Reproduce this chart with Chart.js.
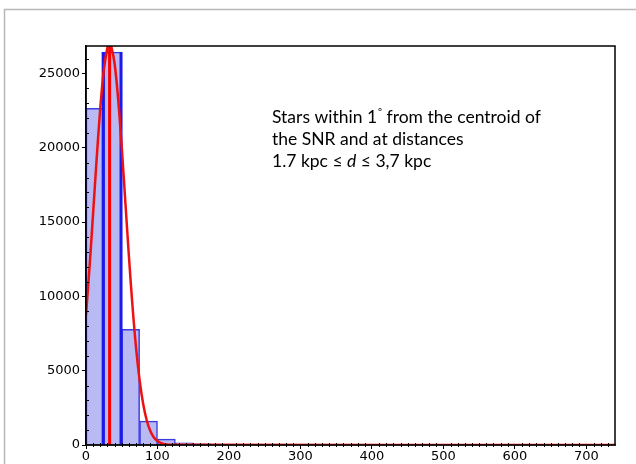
<!DOCTYPE html>
<html>
<head>
<meta charset="utf-8">
<script src="https://cdn.jsdelivr.net/npm/chart.js@4/dist/chart.umd.min.js"></script>
<style>
  html, body { margin: 0; padding: 0; background: #fff; }
  #wrap { width: 636px; height: 464px; position: relative; }
</style>
</head>
<body>
<div id="wrap"><canvas id="chart"></canvas></div>
<script>
// histogram bins (width 25) and counts
const binCenters = [12.5, 37.5, 62.5, 87.5, 112.5, 137.5, 162.5, 187.5, 212.5, 237.5,
    262.5, 287.5, 312.5, 337.5, 362.5, 387.5, 412.5, 437.5, 462.5, 487.5,
    512.5, 537.5, 562.5, 587.5, 612.5, 637.5, 662.5, 687.5, 712.5, 737.5];
const counts = [22650, 26440, 7780, 1610, 400, 150, 80, 60, 45, 40,
    35, 30, 28, 25, 22, 20, 18, 16, 15, 14,
    12, 11, 10, 9, 8, 8, 7, 6, 6, 5];

// fitted curve
const curveX = [0, 5, 10, 15, 20, 25, 30, 33, 35, 40, 45, 50, 55, 60, 65, 70, 75, 80, 85, 90, 95, 100, 105, 110, 120, 740];
const curveY = [8770, 12000, 15640, 19320, 22680, 25270, 26740, 27000, 26890, 25670, 23270, 20030, 16380, 12720, 9370, 6560, 4370, 2760, 1650, 940, 510, 260, 130, 60, 10, 0];

// vertical marker lines
const blueLinesX = [24, 49];
const blueLineTop = 26440;
const redLineX = 33;

const xTicks = [0, 100, 200, 300, 400, 500, 600, 700];
const yTicks = [0, 5000, 10000, 15000, 20000, 25000];
const xMinorStep = 10;
const yMinorStep = 1000;

const annotationLines = ['Stars within 1', 'the SNR and at distances', '1.7 kpc \u2264 ', 'd', ' \u2264 3,7 kpc'];

const ctx = document.querySelector('#chart').getContext('2d');

const frame = {
    id: 'frame',
    beforeDraw(chart) {
        const c = chart.ctx;
        c.save();
        c.fillStyle = '#fff';
        c.fillRect(0, 0, chart.width, chart.height);
        c.strokeStyle = '#b8b8b8';
        c.lineWidth = 1.5;
        c.strokeRect(4.5, 9.5, 700, 600);
        c.restore();
    },
    afterDraw(chart) {
        const c = chart.ctx;
        const a = chart.chartArea;
        const xs = chart.scales.x;
        const ys = chart.scales.y;
        c.save();
        c.strokeStyle = '#000';
        c.lineWidth = 1.5;
        c.strokeRect(a.left, a.top, a.right - a.left, a.bottom - a.top);

        // minor ticks
        c.lineWidth = 1;
        c.beginPath();
        for (let v = xMinorStep; v < xs.max; v += xMinorStep) {
            if (v % 100 === 0) continue;
            const px = Math.round(xs.getPixelForValue(v)) + 0.5;
            c.moveTo(px, a.bottom - 2);
            c.lineTo(px, a.bottom + 2);
        }
        for (let v = yMinorStep; v < ys.max; v += yMinorStep) {
            if (v % 5000 === 0) continue;
            const py = Math.round(ys.getPixelForValue(v)) + 0.5;
            c.moveTo(a.left, py);
            c.lineTo(a.left + 3, py);
        }
        c.stroke();

        // text block
        c.fillStyle = '#000';
        c.textBaseline = 'alphabetic';
        c.font = '17.5px Lato';
        let x = 272;
        c.fillText(annotationLines[0], x, 123);
        let w = c.measureText(annotationLines[0]).width;
        c.font = '10px Lato';
        c.fillText('\u00ba', x + w + 1, 115);
        let w2 = c.measureText('\u00ba').width;
        c.font = '17.5px Lato';
        c.fillText(' from the centroid of', x + w + w2 + 1, 123);
        c.fillText(annotationLines[1], x, 145);
        c.fillText(annotationLines[2], x, 167);
        w = c.measureText(annotationLines[2]).width;
        c.font = 'italic 17.5px Lato';
        c.fillText(annotationLines[3], x + w, 167);
        w2 = c.measureText(annotationLines[3]).width;
        c.font = '17.5px Lato';
        c.fillText(annotationLines[4], x + w + w2, 167);
        c.restore();
    }
};

new Chart(ctx, {
    type: 'bar',
    data: {
        datasets: [
            {
                type: 'line',
                data: curveX.map((v, i) => ({ x: v, y: curveY[i] })),
                borderColor: '#ee1111',
                borderWidth: 2.5,
                pointRadius: 0,
                tension: 0.3,
                order: 0
            },
            {
                type: 'line',
                data: [{ x: redLineX, y: 0 }, { x: redLineX, y: 30000 }],
                borderColor: '#ff0000',
                borderWidth: 3,
                pointRadius: 0,
                order: 1
            },
            {
                type: 'line',
                data: [{ x: blueLinesX[0], y: 0 }, { x: blueLinesX[0], y: blueLineTop }],
                borderColor: '#1a1aee',
                borderWidth: 3,
                pointRadius: 0,
                order: 2
            },
            {
                type: 'line',
                data: [{ x: blueLinesX[1], y: 0 }, { x: blueLinesX[1], y: blueLineTop }],
                borderColor: '#1a1aee',
                borderWidth: 3,
                pointRadius: 0,
                order: 2
            },
            {
                type: 'bar',
                data: binCenters.map((v, i) => ({ x: v, y: counts[i] })),
                backgroundColor: '#b9b9f3',
                borderColor: '#3b3be0',
                borderWidth: 1.5,
                barPercentage: 1,
                categoryPercentage: 1,
                order: 3
            }
        ]
    },
    options: {
        responsive: true,
        maintainAspectRatio: false,
        animation: false,
        layout: { padding: { left: 0, top: 46, right: 21, bottom: 0 } },
        plugins: { legend: { display: false }, tooltip: { enabled: false } },
        scales: {
            x: {
                type: 'linear',
                offset: false,
                min: 0,
                max: 740,
                grid: { display: true, drawOnChartArea: false, tickLength: 4, color: '#000', offset: false },
                border: { display: true, color: '#000', width: 1.5 },
                afterBuildTicks: s => { s.ticks = xTicks.map(v => ({ value: v })); },
                afterFit: s => { s.height = 19; },
                ticks: { color: '#000', padding: 0, maxRotation: 0, font: { family: 'DejaVu Sans', size: 13 }, callback: v => String(v) }
            },
            y: {
                min: 0,
                max: 26850,
                grid: { display: true, drawOnChartArea: false, tickLength: 4, color: '#000' },
                border: { display: true, color: '#000', width: 1.5 },
                afterBuildTicks: s => { s.ticks = yTicks.map(v => ({ value: v })); },
                afterFit: s => { s.width = 86; },
                ticks: { color: '#000', padding: 2, font: { family: 'DejaVu Sans', size: 13 }, callback: v => String(v) }
            }
        }
    },
    plugins: [frame]
});
</script>
</body>
</html>
